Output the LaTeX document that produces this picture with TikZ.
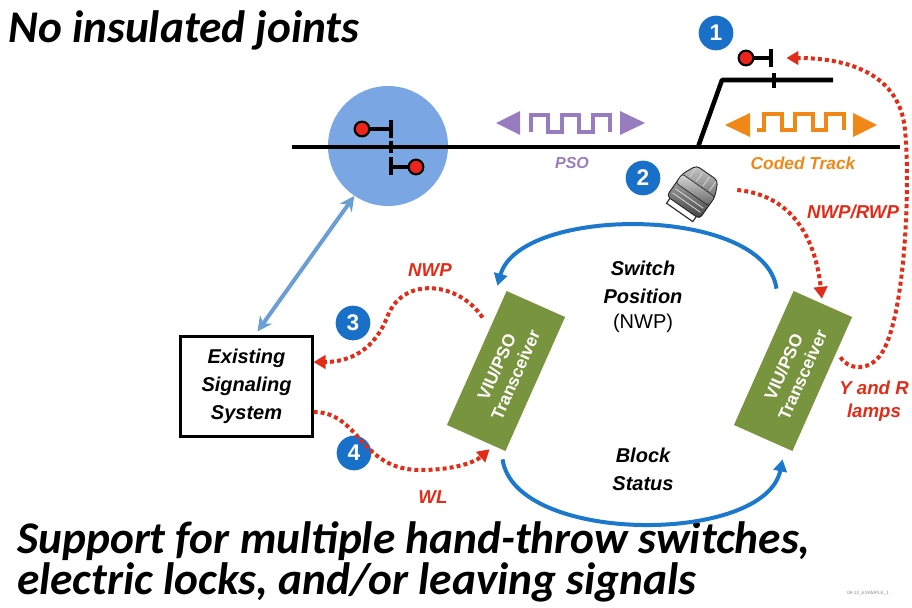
\documentclass[tikz,border=0pt]{standalone}
\usepackage{fontspec}
\setmainfont{Liberation Sans}
\newfontfamily\headfont{Carlito}
\usetikzlibrary{arrows.meta,positioning,calc}

\definecolor{badgeblue}{RGB}{24,112,200}
\definecolor{arcblue}{RGB}{28,120,205}
\definecolor{linkblue}{RGB}{108,158,214}
\definecolor{bubblefill}{RGB}{122,166,228}
\definecolor{lampred}{RGB}{236,36,28}
\definecolor{msgred}{RGB}{226,44,24}
\definecolor{psopurple}{RGB}{152,124,192}
\definecolor{codeorange}{RGB}{240,136,24}
\definecolor{viugreen}{RGB}{120,148,62}

\tikzset{
  badge/.style={circle,fill=badgeblue,text=white,inner sep=0pt,minimum size=26pt,
    font=\fontsize{17}{17}\selectfont\bfseries},
  viu/.style={fill=viugreen,text=white,minimum width=110pt,minimum height=48pt,
    inner sep=0pt,rotate=66,align=center,font=\fontsize{13}{15.5}\selectfont\bfseries},
  msg/.style={msgred,line width=3pt,dash pattern=on 3pt off 2.3pt,
    -{Triangle[length=9pt,width=10pt]}},
  msglabel/.style={text=msgred,font=\fontsize{14}{17}\selectfont\bfseries\itshape,align=center},
  flow/.style={arcblue,line width=3pt,-{Triangle[length=9pt,width=10pt]}},
  caption/.style={font=\fontsize{15}{21}\selectfont\bfseries\itshape,align=center},
  rail/.style={line width=3.4pt,line join=round},
  lamp/.style={circle,fill=lampred,draw=black,line width=1.6pt,inner sep=0pt,minimum size=11pt},
  post/.style={line width=2.4pt},
  heading/.style={anchor=base west,inner sep=0pt,font=\headfont\fontsize{34}{40}\selectfont\bfseries\itshape},
}

\begin{document}
\begin{tikzpicture}[x=0.75pt,y=-0.75pt]
\useasboundingbox (0,0) rectangle (912,607);

% headings
\node[heading] (title) at (8,42) {No insulated joints};
\node[heading] (foot1) at (17,553) {Support for multiple hand-throw switches,};
\node[heading] (foot2) at (17,594) {electric locks, and/or leaving signals};
\node[anchor=base,inner sep=0pt,text=black!45,font=\fontsize{3.5}{4}\selectfont] (tag) at (868,594) {08-13\_EXAMPLE\_1};

% wayside bubble with the leaving signals
\node[circle,fill=bubblefill,minimum size=90pt,inner sep=0pt] (bubble) at (388,146) {};

% track and siding
\draw[rail] (292,147) -- (900,147);
\draw[rail] (698,147) -- (722,80) -- (833,80);
\draw[post] (774,73) -- (774,88);

% signals inside the bubble
\node[lamp] (lampA) at (362,129) {};
\draw[post] (lampA) -- (391,129);
\draw[post] (391,120) -- (391,138);
\draw[post] (391,141) -- (391,153);
\draw[post] (391,157) -- (391,175);
\node[lamp] (lampB) at (416,167) {};
\draw[post] (391,167) -- (lampB);

% signal at the siding
\node[lamp] (lampC) at (746,58) {};
\draw[post] (lampC) -- (771,58);
\draw[post] (771,49) -- (771,67);

% PSO carrier
\fill[psopurple] (520,111) -- (496,123) -- (520,135) -- cycle;
\fill[psopurple] (620,111) -- (645,123) -- (620,135) -- cycle;
\draw[psopurple,line width=2.3pt] (531,132) -- ++(0,-17) -- ++(17,0) -- ++(0,17) -- ++(14,0)
  -- ++(0,-17) -- ++(17,0) -- ++(0,17) -- ++(14,0) -- ++(0,-17) -- ++(17,0) -- ++(0,17);
\node[text=psopurple,font=\fontsize{12}{14}\selectfont\bfseries\itshape] (pso) at (572,163) {PSO};

% coded track carrier
\fill[codeorange] (750,113) -- (725,125) -- (750,137) -- cycle;
\fill[codeorange] (853,113) -- (877,125) -- (853,137) -- cycle;
\draw[codeorange,line width=2.3pt] (757,130) -- ++(7,0) -- ++(0,-16) -- ++(18,0) -- ++(0,16) -- ++(13,0)
  -- ++(0,-16) -- ++(18,0) -- ++(0,16) -- ++(13,0) -- ++(0,-16) -- ++(18,0) -- ++(0,16);
\node[text=codeorange,font=\fontsize{13}{15}\selectfont\bfseries\itshape] (coded) at (803,163) {Coded Track};

% switch machine
\node[minimum width=36pt,minimum height=42pt,inner sep=0pt] (machine) at (692,192) {};
\begin{scope}[shift={(692,193)},rotate=-35]
  \shade[top color=gray!45,bottom color=black!75,draw=black!85,line width=.7pt,rounded corners=3pt]
    (-19,-10) -- (-12,-25) -- (14,-25) -- (21,-10) -- (21,17) -- (-19,17) -- cycle;
  \shade[top color=gray!30,bottom color=black!60,draw=black!85,line width=.5pt,rounded corners=2pt]
    (-19,-10) -- (21,-10) -- (21,1) -- (-19,1) -- cycle;
  \foreach \u in {-11,-3,5,13}
    \draw[gray!35,line width=.7pt] (\u,-23) -- (\u,-12);
  \draw[black!80,line width=.9pt] (-15,17) -- (-15,23) -- (17,23) -- (17,17);
  \draw[gray!30,line width=.6pt] (-16,6) -- (18,6) (-16,11) -- (18,11);
\end{scope}

% number badges
\node[badge] (n1) at (716,33) {1};
\node[badge] (n2) at (643,178) {2};
\node[badge] (n3) at (353,323) {3};
\node[badge] (n4) at (354,453) {4};

% transceivers and the existing system
\node[viu] (viuL) at (506,371) {VIU/PSO\\Transceiver};
\node[viu] (viuR) at (793,371) {VIU/PSO\\Transceiver};
\node[draw,line width=1.6pt,minimum width=99pt,minimum height=75pt,
  font=\fontsize{15}{21}\selectfont\bfseries\itshape,align=center] (sys) at (246.5,386.5)
  {Existing\\Signaling\\System};

% link between bubble and existing system
\draw[linkblue,line width=3pt,{Stealth[length=11pt,width=11pt]}-{Stealth[length=11pt,width=11pt]}]
  (bubble.236) -- ($(sys.north)+(11,-4)$);

% vital messages between the transceivers
\draw[flow] ($(viuR.north east)+(-17,-2)$) .. controls (765,205) and (520,205) .. ($(viuL.north east)+(-9,-5)$);
\draw[flow] ($(viuL.south west)+(-3,8)$) .. controls (515,545) and (765,545) .. ($(viuR.south west)+(-10,8)$);
\node[caption] (swpos) at (643,297) {Switch\\Position\\[-2pt]{\mdseries\upshape (NWP)}};
\node[caption] (block) at (643,469) {Block\\Status};

% local wayside circuits
\draw[msg] ($(viuL.north east)!0.2!(viuL.north west)+(-12,0)$)
  .. controls (460,283) and (405,275) .. (388,315)
  .. controls (375,350) and (350,362) .. (sys.east |- 0,362);
\node[msglabel] (nwp) at (430,270) {NWP};
\draw[msg] (sys.east |- 0,412) .. controls (360,412) and (360,470) .. (420,470)
  .. controls (455,470) and (475,462) .. ($(viuL.south west)!0.27!(viuL.north west)+(0,5)$);
\node[msglabel] (wl) at (433,497) {WL};
\draw[msg] ($(machine.east)+(21,-2)$) .. controls (790,195) and (815,235) .. ($(viuR.east)+(-1,-5)$);
\node[msglabel] (nwprwp) at (853,212) {NWP/RWP};
\draw[msg] ($(viuR.south east)!0.3!(viuR.south west)+(6,0)$)
  .. controls (850,372) and (875,372) .. (886,345)
  .. controls (906,300) and (910,180) .. (905,130)
  .. controls (900,75) and (850,58) .. ($(lampC.east)+(32,0)$);
\node[msglabel] (lamps) at (874,401) {Y and R\\lamps};
\end{tikzpicture}
\end{document}
